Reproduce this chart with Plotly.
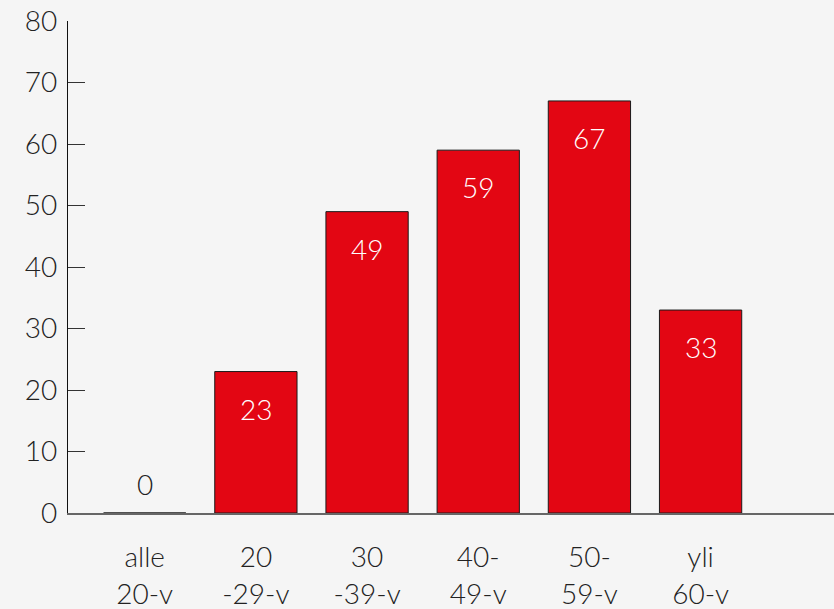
import plotly.graph_objects as go

categories = ["alle<br>20-v", "20<br>-29-v", "30<br>-39-v", "40-<br>49-v", "50-<br>59-v", "yli<br>60-v"]
values = [0, 23, 49, 59, 67, 33]
y_ticks = [0, 10, 20, 30, 40, 50, 60, 70, 80]

FONT = "Lato"
BG = "#f5f5f5"
RED = "#e30613"

fig = go.Figure()
fig.add_trace(go.Bar(
    x=list(range(len(categories))),
    y=values,
    width=0.74,
    marker=dict(color=RED, line=dict(color="#1a1a1a", width=1)),
    hoverinfo="skip",
))

for i, v in enumerate(values):
    if v > 0:
        fig.add_annotation(x=i, y=v, text=str(v), showarrow=False, yanchor="top",
                           yshift=-18, font=dict(family=FONT, size=28, color="white", weight=300))
    else:
        fig.add_annotation(x=i, y=v, text=str(v), showarrow=False, yanchor="bottom",
                           yshift=10, font=dict(family=FONT, size=28, color="#222", weight=300))

fig.update_layout(
    width=834, height=609,
    paper_bgcolor=BG, plot_bgcolor=BG,
    margin=dict(l=68, r=0, t=21, b=96, autoexpand=False),
    showlegend=False,
    font=dict(family=FONT, size=28, color="#222", weight=300),
)
fig.update_xaxes(
    range=[-0.69, 6.2],
    tickmode="array", tickvals=list(range(len(categories))), ticktext=categories,
    showline=True, linecolor="#666", linewidth=1.5,
    ticks="", showgrid=False, zeroline=False,
    ticklabelstandoff=19, automargin=False,
)
fig.update_yaxes(
    range=[0, 80],
    tickmode="array", tickvals=y_ticks,
    showline=True, linecolor="#111", linewidth=1.2,
    ticks="inside", ticklen=17, tickcolor="#333", tickwidth=1,
    showgrid=False, zeroline=False,
    ticklabelstandoff=4, automargin=False,
)

fig.write_html("out.html", post_script="document.body.style.margin='0px';document.body.style.background='#f5f5f5';",
               config={"displayModeBar": False})
